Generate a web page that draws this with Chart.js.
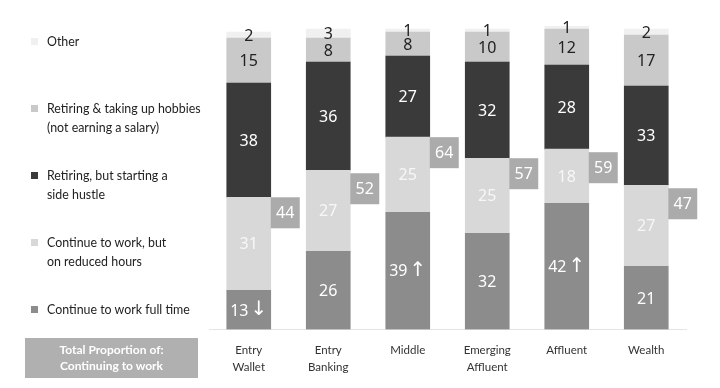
<!DOCTYPE html>
<html>
<head>
<meta charset="utf-8">
<script src="https://cdn.jsdelivr.net/npm/chart.js@4.4.0/dist/chart.umd.min.js"></script>
<style>
  html, body { margin: 0; padding: 0; background: #ffffff; }
  #wrap { position: relative; width: 720px; height: 388px; overflow: hidden; }
  #c { position: absolute; left: 0; top: 0; }
  #legend { position: absolute; left: 0; top: 0; width: 210px; height: 330px; font-family: Lato, "Open Sans", sans-serif; font-size: 12.4px; color: #222; }
  .item { position: absolute; left: 47px; line-height: 19px; white-space: nowrap; }
  .mark { position: absolute; left: -16px; top: 6px; width: 7px; height: 7px; }
  #totbox { position: absolute; left: 25px; top: 338px; width: 173px; height: 40px; background: #b0b0b0; color: #fff;
            font-family: Lato, sans-serif; font-weight: bold; font-size: 12px; line-height: 16px; text-align: center;
            display: flex; align-items: center; justify-content: center; }
</style>
</head>
<body>
<div id="wrap">
  <canvas id="c" width="720" height="388"></canvas>
  <div id="legend"></div>
  <div id="totbox"><div>Total Proportion of:<br>Continuing to work</div></div>
</div>
<script>
const categories = [["Entry", "Wallet"], ["Entry", "Banking"], ["Middle"], ["Emerging", "Affluent"], ["Affluent"], ["Wealth"]];
const fullTime = [13, 26, 39, 32, 42, 21];
const reducedHours = [31, 27, 25, 25, 18, 27];
const sideHustle = [38, 36, 27, 32, 28, 33];
const hobbies = [15, 8, 8, 10, 12, 17];
const other = [2, 3, 1, 1, 1, 2];
const totalContinuing = [44, 52, 64, 57, 59, 47];
const fullTimeArrows = ["\u2193", "", "\u2191", "", "\u2191", ""];
const seriesNames = ["Continue to work full time", "Continue to work, but on reduced hours", "Retiring, but starting a side hustle", "Retiring & taking up hobbies (not earning a salary)", "Other"];
const legendLines = [["Other"], ["Retiring & taking up hobbies", "(not earning a salary)"], ["Retiring, but starting a", "side hustle"], ["Continue to work, but", "on reduced hours"], ["Continue to work full time"]];

const colors = ["#8c8c8c", "#d8d8d8", "#3a3a3a", "#c9c9c9", "#f0f0f0"];
const labelColors = ["#ffffff", "#f7f7f7", "#ffffff", "#222222", "#222222"];
const seriesData = [fullTime, reducedHours, sideHustle, hobbies, other];

// HTML legend (top to bottom, reversed series order)
const legendTops = [32, 99, 166, 233, 300];
const legendEl = document.getElementById('legend');
legendLines.forEach((lines, i) => {
  const si = 4 - i;
  const d = document.createElement('div');
  d.className = 'item';
  d.style.top = legendTops[i] + 'px';
  d.innerHTML = '<span class="mark" style="background:' + colors[si] + '"></span>' + lines.join('<br>');
  legendEl.appendChild(d);
});

const labelPlugin = {
  id: 'segLabels',
  afterDatasetsDraw(chart) {
    const ctx = chart.ctx;
    ctx.save();
    ctx.textAlign = 'center';
    ctx.textBaseline = 'middle';
    ctx.font = '16px "Noto Sans", sans-serif';
    chart.data.datasets.forEach((ds, di) => {
      const meta = chart.getDatasetMeta(di);
      meta.data.forEach((bar, i) => {
        const txt = String(ds.data[i]);
        ctx.fillStyle = labelColors[di];
        const cy = (bar.y + bar.base) / 2;
        if (di === 0 && fullTimeArrows[i]) {
          ctx.font = '16px "Noto Sans", sans-serif';
          const w = ctx.measureText(txt).width;
          ctx.font = '20px "DejaVu Sans", sans-serif';
          const aw = ctx.measureText(fullTimeArrows[i]).width;
          const total = w + 2 + aw;
          const sx = bar.x - total / 2;
          ctx.textAlign = 'left';
          ctx.font = '16px "Noto Sans", sans-serif';
          ctx.fillText(txt, sx, cy + 1);
          ctx.font = '20px "DejaVu Sans", sans-serif';
          ctx.fillText(fullTimeArrows[i], sx + w + 2, cy);
          ctx.textAlign = 'center';
          ctx.font = '16px "Noto Sans", sans-serif';
        } else {
          ctx.fillText(txt, bar.x, cy + 1);
        }
      });
    });
    // total boxes
    const yS = chart.scales.y;
    const meta0 = chart.getDatasetMeta(0);
    meta0.data.forEach((bar, i) => {
      const x0 = bar.x + bar.width / 2;
      const yTop = yS.getPixelForValue(totalContinuing[i]);
      ctx.fillStyle = '#ababab';
      ctx.fillRect(x0, yTop, 29, 31);
      ctx.fillStyle = '#ffffff';
      ctx.fillText(String(totalContinuing[i]), x0 + 14.5, yTop + 16);
    });
    ctx.restore();
  }
};

new Chart(document.getElementById('c'), {
  type: 'bar',
  data: {
    labels: categories,
    datasets: seriesData.map((d, i) => ({
      label: seriesNames[i],
      data: d,
      backgroundColor: colors[i],
      borderWidth: 0,
      barThickness: 44
    }))
  },
  options: {
    responsive: false,
    animation: false,
    events: [],
    layout: { padding: { left: 209, right: 34, top: 26, bottom: 0 } },
    plugins: { legend: { display: false }, tooltip: { enabled: false } },
    scales: {
      x: {
        stacked: true,
        grid: { display: false, drawTicks: false },
        border: { display: true, color: '#e4e4e4', width: 1 },
        ticks: { color: '#333', font: { family: 'Lato', size: 11.5, lineHeight: 1.5 }, padding: 12, maxRotation: 0, autoSkip: false }
      },
      y: {
        stacked: true,
        display: false,
        min: 0,
        max: 101
      }
    }
  },
  plugins: [labelPlugin]
});
</script>
</body>
</html>
